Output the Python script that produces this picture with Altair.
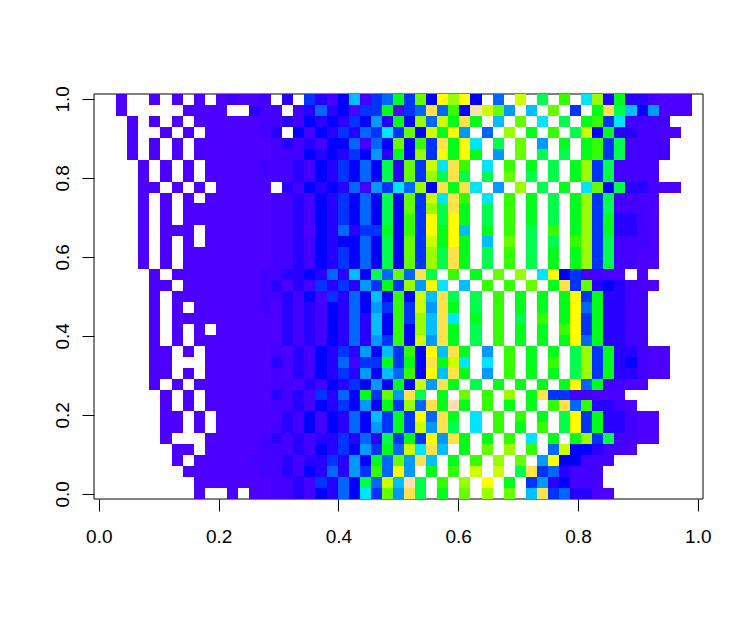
import altair as alt
import numpy as np
import pandas as pd

# colour levels (topo palette); '.' marks an empty cell
level_keys = list("abcdefghijklmnopqr")
level_colors = ["#4C00FF", "#4400FF", "#2800FF", "#0000FF", "#0033FF", "#0066FF", "#0099FF", "#00BFFF", "#00E5FF",
                "#00FF4D", "#00FF1A", "#33FF00", "#66FF00", "#99FF00", "#CCFF00", "#FFFF00", "#FFE34D", "#FFE0B3"]

# each row, top to bottom: left columns + right columns
rows_left = [
    "..a..a.a.a.abaab.c.ecbdhbefk", "..a.....aaaa..cbb.bcfcdaeeka", "...a.a.a.aaaaaabbcbdcdcedgck",
    "...a..a.a.aaaaabc.dbdcecfeie", "...a.a.a.aaaaaaabcbcbddfbfdm", "...a.a.a.aaaaaaabbbdcdcedgck",
    "....a.a.a.aaaaabbbcbdcedfdjc", "....a.a.a.aaaaabbbcbdcedfdjc", "....aa.a.a.aaaaa.cbdcdcfbgei",
    "....a.a.a.aaaaaabbcbdcedfdjd", "....a.a.aaaaaaaabbcbdcedfdjd", "....a.a.aaaaaaaabbcbdcedfdjd",
    "....a.aaa.aaaaaabbcadcfceekd", "....a.a.a.aaaaaabbcbdcddfdjd", "....a.a.aaaaaaaabbcbdcedfdjd",
    "....a.a.aaaaaaaabbcbdcedfdjd", ".....a.aaaaaaaabbccdcfchdjfm", ".....aa.aaaaaaabcacbececgeke",
    ".....a.aaaaaaaabbcbdbecfdhdl", ".....a.a.aaaaaabacbcbdcfdgel", ".....a.aaaaaaaaaacbcbdcfchdl",
    ".....a.a.a.aaaaaacbcbdcfchdl", ".....a.a.aaaaaaaacbcbdcfcgel", ".....aa.a.aaaaaabacbdcecgdhe",
    ".....aa...aaaaaacbcbdcfbeeke", ".....aa.a.aaaaaabacbdcecgdhf", ".....a.a.aaaaaaabbacbdcedgdk",
    "......a.a.aaaaaacbcbecfdkemg", "......a.a.aaaaaabbcbdcedgdke", "......aa.a.aaaaaacbdbdcfdhek",
    "......aa.a.aaaaabcbdbdcfdgek", "......a...aaaaabcbcbccecfcje", ".......aa.aaaaabbbcbdcedgekf",
    ".......a.aaaaabbbcbccecgdkfm", "........aaaaaaabbcbdcfcgelfp", ".........aaaaaaabbcbecfdjfoh",
    ".........a..a.aabbcbdcfdiemg",
]
rows_right = [
    "emdpnpd.f.o.j.l.inckccbaaa", "efqfldromg.h.m.e.kqjhdgaaa", "dnfokqk.h.m.i.j.kleibbbb",
    "mdokpg.f.n.k.l.jodkccbbaa", "dleqkpi.j.m.g.k.klejbbbb", "dnepkpk.g.m.j.j.klejbbbb",
    "meoiql.i.l.k.j.knejbbbb", "menjqj.j.m.j.j.knejbbbb", "fndqkqi.g.n.j.k.imdjccbaa",
    "meoiql.i.l.k.j.knejbbba", "menjqk.j.l.k.j.knejbbba", "lepjpk.j.l.k.j.knekccba",
    "lepkph.k.l.j.l.knekccba", "meokpk.h.m.j.j.lnejbbba", "menjqk.j.l.j.k.knejbbaa",
    "menjqk.j.l.j.k.knejbbaa", "fqj.l.k.m.n.ipdebbaa.a", "ngpi.h.l.l.m.kqemcdcbaa",
    "dohqj.j.l.k.k.kpekccbb", "eogqk.j.l.k.k.kpfkccbb", "enhqi.k.l.j.l.kpekccbb",
    "dnhqk.j.l.k.k.lpekccbb", "dogqk.j.l.k.k.kpfkccbb", "ldphqk.g.l.k.k.jnekccbaa",
    "kdqkoi.i.l.k.l.jnekcdbaa", "ldphqk.g.l.k.k.jnekccbaa", "dogqk.j.k.k.k.kpfkbbaa",
    "qj.k.m.l.n.kqeebbaaa", "nfqkrk.l.k.k.lqflccba", "epfqk.i.l.l.k.jpekccbaa",
    "eogqj.i.l.k.l.jpekccbaa", "kepgqk.k.l.i.k.knejbbaa", "oiqh.k.m.n.l.foddcbba",
    "gqh.k.l.n.m.gpddbbb", "g.k.l.o.o.jqefcbbb", "rj.l.n.p.k.egcdbbb",
    "qj.k.m.n.m.hqefccaa",
]
tick_values = [0.0, 0.2, 0.4, 0.6, 0.8, 1.0]

N_COLS, N_ROWS = 55, 37
W, H = 609, 405
PX_X, PX_Y = 599.0, 395.0        # pixels per data unit
X0 = -4.8 / PX_X                 # left end of the x domain
Y0 = -5.2 / PX_Y                 # bottom end of the y domain
x_edges = (np.round(np.linspace(0, W, N_COLS + 1))) / PX_X + X0
y_edges = (np.round(np.linspace(0, H, N_ROWS + 1))) / PX_Y + Y0

records = []
for r, (left, right) in enumerate(zip(rows_left, rows_right)):
    row = (left + right).ljust(N_COLS, ".")
    for k, ch in enumerate(row):
        if ch == ".":
            continue
        b = N_ROWS - 1 - r
        records.append({"x": x_edges[k], "x2": x_edges[k + 1], "y": y_edges[b], "y2": y_edges[b + 1], "level": ch})
df = pd.DataFrame(records)

FONT = "Liberation Sans"
x_scale = alt.Scale(domain=[float(X0), float(X0 + W / PX_X)], nice=False, zero=False)
y_scale = alt.Scale(domain=[float(Y0), float(Y0 + H / PX_Y)], nice=False, zero=False)

box = alt.Chart(pd.DataFrame({"a": [0]})).mark_rect(fill=None, stroke="black", strokeWidth=1).encode(
    x=alt.value(0), x2=alt.value(W), y=alt.value(0), y2=alt.value(H)
)

cells = alt.Chart(df).mark_rect(strokeWidth=0).encode(
    x=alt.X("x:Q", scale=x_scale, title=None,
            axis=alt.Axis(values=tick_values, format=".1f", grid=False, domain=False, tickSize=12,
                          tickColor="black", labelColor="black", labelFont=FONT, labelFontSize=19,
                          labelPadding=16, labelFlush=False, labelOverlap=False)),
    x2="x2:Q",
    y=alt.Y("y:Q", scale=y_scale, title=None,
            axis=alt.Axis(values=tick_values, format=".1f", grid=False, domain=False, tickSize=12,
                          tickColor="black", labelColor="black", labelFont=FONT, labelFontSize=19,
                          labelAngle=-90, labelAlign="center", labelBaseline="bottom", labelPadding=10,
                          labelFlush=False, labelOverlap=False)),
    y2="y2:Q",
    color=alt.Color("level:N", scale=alt.Scale(domain=level_keys, range=level_colors), legend=None),
)

chart = alt.layer(box, cells).properties(
    width=W, height=H, background="white",
    autosize=alt.AutoSizeParams(type="none"),
    padding={"left": 86, "top": 86, "right": 10, "bottom": 100},
).configure_view(stroke=None)

chart.save("out.html", embed_options={"renderer": "svg", "actions": False})
